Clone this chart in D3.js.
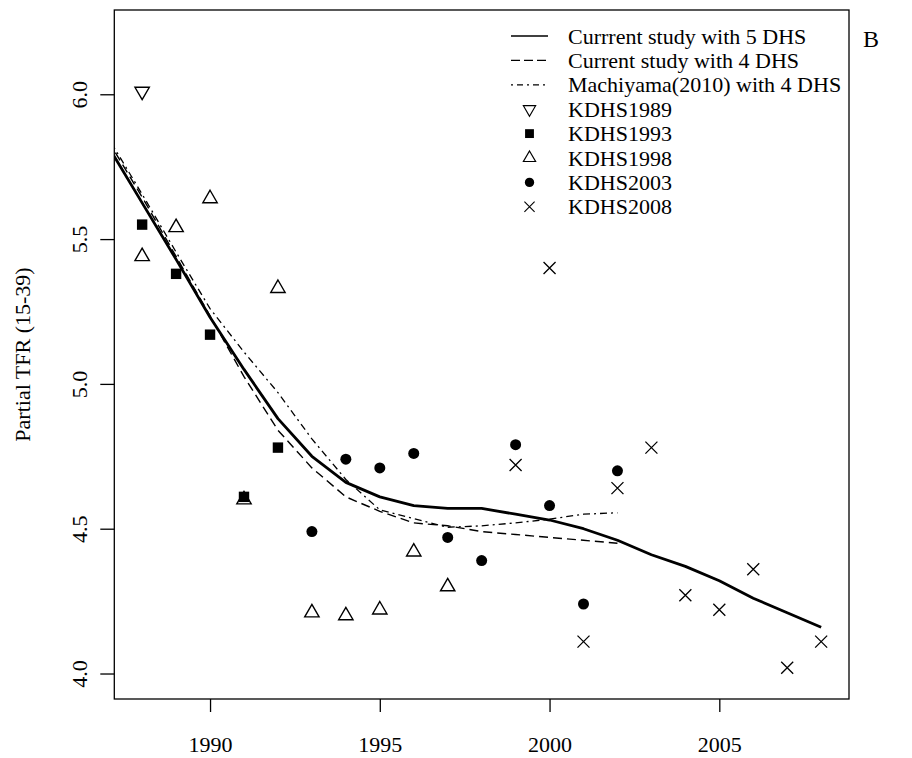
<!DOCTYPE html>
<html>
<head>
<meta charset="utf-8">
<script src="https://cdn.jsdelivr.net/npm/d3@7"></script>
<style>
  html, body { margin: 0; padding: 0; background: #fff; }
  svg { display: block; }
  text { font-family: "Liberation Serif", "Times New Roman", Times, serif; fill: #000; }
</style>
</head>
<body>
<svg id="chart" width="912" height="758"></svg>
<script>
// Smoothed partial TFR curves (one value per calendar year)
const curveYears5 = [1987, 1988, 1989, 1990, 1991, 1992, 1993, 1994, 1995, 1996, 1997,
                     1998, 1999, 2000, 2001, 2002, 2003, 2004, 2005, 2006, 2007, 2008];
const current5 = [5.82, 5.625, 5.43, 5.23, 5.05, 4.88, 4.75, 4.66, 4.61, 4.58, 4.57,
                  4.57, 4.55, 4.53, 4.50, 4.46, 4.41, 4.37, 4.32, 4.26, 4.21, 4.16];
const curveYears4 = [1987, 1988, 1989, 1990, 1991, 1992, 1993, 1994,
                     1995, 1996, 1997, 1998, 1999, 2000, 2001, 2002];
const current4 = [5.84, 5.645, 5.44, 5.235, 5.025, 4.84, 4.71, 4.61,
                  4.56, 4.52, 4.51, 4.49, 4.48, 4.47, 4.46, 4.45];
const machiyama4 = [5.85, 5.655, 5.455, 5.26, 5.11, 4.97, 4.81, 4.67,
                    4.565, 4.535, 4.505, 4.51, 4.52, 4.533, 4.55, 4.555];

// Survey-specific point estimates
const kdhs1989Years = [1988];
const kdhs1989 = [6.01];
const kdhs1993Years = [1988, 1989, 1990, 1991, 1992];
const kdhs1993 = [5.55, 5.38, 5.17, 4.61, 4.78];
const kdhs1998Years = [1988, 1989, 1990, 1991, 1992, 1993, 1994, 1995, 1996, 1997];
const kdhs1998 = [5.44, 5.54, 5.64, 4.60, 5.33, 4.21, 4.20, 4.22, 4.42, 4.30];
const kdhs2003Years = [1993, 1994, 1995, 1996, 1997, 1998, 1999, 2000, 2001, 2002];
const kdhs2003 = [4.49, 4.74, 4.71, 4.76, 4.47, 4.39, 4.79, 4.58, 4.24, 4.70];
const kdhs2008Years = [1999, 2000, 2001, 2002, 2003, 2004, 2005, 2006, 2007, 2008];
const kdhs2008 = [4.72, 5.40, 4.11, 4.64, 4.78, 4.27, 4.22, 4.36, 4.02, 4.11];

// Axis ticks and labels
const xTicks = [1990, 1995, 2000, 2005];
const yTicks = [4.0, 4.5, 5.0, 5.5, 6.0];
const yTitle = "Partial TFR (15-39)";
const panelLetter = "B";
const legendLabels = ["Currrent study with 5 DHS", "Current study with 4 DHS",
  "Machiyama(2010) with 4 DHS", "KDHS1989", "KDHS1993", "KDHS1998", "KDHS2003", "KDHS2008"];

const svg = d3.select("#chart");
const plot = { left: 114.3, right: 849, top: 10, bottom: 699 };

const x = d3.scaleLinear().domain([1987.18, 2008.82]).range([plot.left, plot.right]);
const y = d3.scaleLinear().domain([3.912, 6.291]).range([plot.bottom, plot.top]);

const FONT = 22;

svg.append("defs").append("clipPath").attr("id", "plotClip")
  .append("rect")
  .attr("x", plot.left).attr("y", plot.top)
  .attr("width", plot.right - plot.left).attr("height", plot.bottom - plot.top);

// Axes
const xAxis = d3.axisBottom(x).tickValues(xTicks).tickSize(13).tickPadding(0).tickFormat(d3.format("d"));
const gx = svg.append("g").attr("transform", `translate(0,${plot.bottom})`).call(xAxis);
gx.select(".domain").remove();
gx.selectAll("line").attr("stroke", "#000").attr("stroke-width", 1.3);
gx.selectAll("text").attr("font-size", FONT).attr("dy", null).attr("y", 53);

const yAxis = d3.axisLeft(y).tickValues(yTicks).tickSize(14).tickFormat(d3.format(".1f"));
const gy = svg.append("g").attr("transform", `translate(${plot.left},0)`).call(yAxis);
gy.select(".domain").remove();
gy.selectAll("line").attr("stroke", "#000").attr("stroke-width", 1.3);
gy.selectAll(".tick text")
  .attr("font-size", FONT)
  .attr("x", null).attr("dy", null)
  .attr("text-anchor", "middle")
  .attr("transform", "translate(-27,0) rotate(-90)");

// Plot frame
svg.append("rect")
  .attr("x", plot.left).attr("y", plot.top)
  .attr("width", plot.right - plot.left).attr("height", plot.bottom - plot.top)
  .attr("fill", "none").attr("stroke", "#000").attr("stroke-width", 1.3);

// Y axis title and panel letter
svg.append("text")
  .attr("transform", `translate(30,${(plot.top + plot.bottom) / 2}) rotate(-90)`)
  .attr("text-anchor", "middle").attr("font-size", FONT)
  .text(yTitle);
svg.append("text")
  .attr("x", 863).attr("y", 47).attr("font-size", 24)
  .text(panelLetter);

// Curves
const lineGen = (years) => d3.line()
  .x((d, i) => x(years[i]))
  .y(d => y(d))
  .curve(d3.curveLinear);

const curves = svg.append("g").attr("clip-path", "url(#plotClip)");
const styles = {
  solid: { width: 2.8, dash: null },
  dashed: { width: 1.4, dash: "9,5" },
  dotdash: { width: 1.3, dash: "2,4,7,4" }
};
curves.append("path").datum(machiyama4)
  .attr("d", lineGen(curveYears4))
  .attr("fill", "none").attr("stroke", "#000")
  .attr("stroke-width", styles.dotdash.width).attr("stroke-dasharray", styles.dotdash.dash);
curves.append("path").datum(current4)
  .attr("d", lineGen(curveYears4))
  .attr("fill", "none").attr("stroke", "#000")
  .attr("stroke-width", styles.dashed.width).attr("stroke-dasharray", styles.dashed.dash);
curves.append("path").datum(current5)
  .attr("d", lineGen(curveYears5))
  .attr("fill", "none").attr("stroke", "#000")
  .attr("stroke-width", styles.solid.width).attr("stroke-linejoin", "round");

// Point symbols
const R = 8.3;
const s3 = Math.sqrt(3) / 2;
const symbolDraw = {
  down: (g) => g.append("path")
    .attr("d", `M0,${R} L${R * s3},${-R / 2} L${-R * s3},${-R / 2} Z`)
    .attr("fill", "none").attr("stroke", "#000").attr("stroke-width", 1.4),
  square: (g) => g.append("rect")
    .attr("x", -5.2).attr("y", -5.2).attr("width", 10.4).attr("height", 10.4)
    .attr("fill", "#000"),
  up: (g) => g.append("path")
    .attr("d", `M0,${-R} L${R * s3},${R / 2} L${-R * s3},${R / 2} Z`)
    .attr("fill", "none").attr("stroke", "#000").attr("stroke-width", 1.4),
  dot: (g) => g.append("circle").attr("r", 5.5).attr("fill", "#000"),
  cross: (g) => g.append("path")
    .attr("d", "M-6,-6 L6,6 M-6,6 L6,-6")
    .attr("fill", "none").attr("stroke", "#000").attr("stroke-width", 1.3)
};

const pointSets = [
  { years: kdhs1989Years, vals: kdhs1989, sym: "down" },
  { years: kdhs1993Years, vals: kdhs1993, sym: "square" },
  { years: kdhs1998Years, vals: kdhs1998, sym: "up" },
  { years: kdhs2003Years, vals: kdhs2003, sym: "dot" },
  { years: kdhs2008Years, vals: kdhs2008, sym: "cross" }
];
const pts = svg.append("g");
pointSets.forEach(set => {
  set.vals.forEach((v, i) => {
    const g = pts.append("g").attr("transform", `translate(${x(set.years[i])},${y(v)})`);
    symbolDraw[set.sym](g);
  });
});

// Legend
const legend = svg.append("g");
const legRow0 = 36, legStep = 24.4;
const legLineX0 = 511, legLineX1 = 548, legSymX = 529.5, legTextX = 568;
const legendKeys = [
  { type: "line", dash: null, width: 1.5 },
  { type: "line", dash: "9,4", width: 1.3 },
  { type: "line", dash: "2,4,6,4", width: 1.2 },
  { type: "sym", sym: "down" },
  { type: "sym", sym: "square" },
  { type: "sym", sym: "up" },
  { type: "sym", sym: "dot" },
  { type: "sym", sym: "cross" }
];
legendLabels.forEach((label, i) => {
  const cy = legRow0 + i * legStep;
  const key = legendKeys[i];
  if (key.type === "line") {
    legend.append("line")
      .attr("x1", legLineX0).attr("x2", legLineX1).attr("y1", cy).attr("y2", cy)
      .attr("stroke", "#000").attr("stroke-width", key.width)
      .attr("stroke-dasharray", key.dash);
  } else {
    const g = legend.append("g").attr("transform", `translate(${legSymX},${cy}) scale(0.85)`);
    symbolDraw[key.sym](g);
  }
  legend.append("text")
    .attr("x", legTextX).attr("y", cy + 7.5)
    .attr("font-size", FONT)
    .text(label);
});
</script>
</body>
</html>
